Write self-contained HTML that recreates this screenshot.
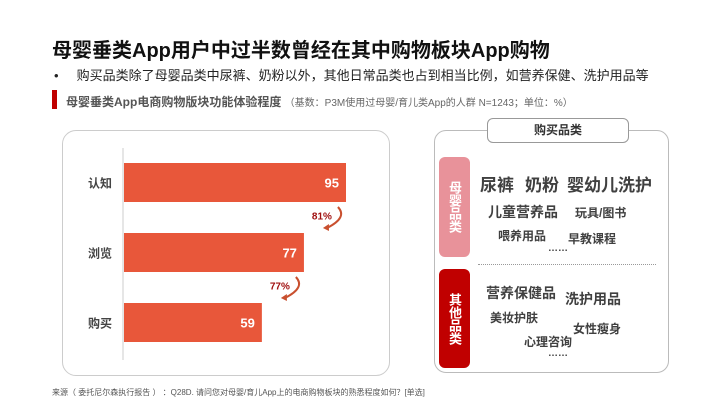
<!DOCTYPE html>
<html><head><meta charset="utf-8"><style>
body{margin:0;width:720px;height:405px;background:#fff;position:relative;overflow:hidden;font-family:"Liberation Sans","Noto Sans CJK SC",sans-serif;color:#333}
.a{position:absolute;white-space:nowrap}
.w{font-weight:bold;color:#404040}
</style></head><body>
<div class="a" style="left:52px;top:34px;font-size:20px;font-weight:bold;color:#111">母婴垂类App用户中过半数曾经在其中购物板块App购物</div>
<div class="a" style="left:54px;top:65px;font-size:13px;color:#222">•&nbsp;&nbsp;&nbsp;&nbsp;&nbsp;购买品类除了母婴品类中尿裤、奶粉以外，其他日常品类也占到相当比例，如营养保健、洗护用品等</div>
<div class="a" style="left:52px;top:90px;width:5px;height:19px;background:#c00000"></div>
<div class="a" style="left:66px;top:93px;font-size:12px;font-weight:bold;color:#555">母婴垂类App电商购物版块功能体验程度 <span style="font-size:10px;font-weight:normal;color:#666">（基数：P3M使用过母婴/育儿类App的人群 N=1243；单位：%）</span></div>

<div class="a" style="left:62px;top:130px;width:326px;height:244px;border:1px solid #ccc;border-radius:14px"></div>
<svg class="a" style="left:0;top:0" width="720" height="405" id="chart"></svg>

<div class="a" style="left:434px;top:130px;width:233px;height:241px;border:1px solid #bbb;border-radius:12px"></div>
<div class="a" style="left:487px;top:118px;width:140px;height:23px;border:1px solid #999;border-radius:6px;background:#fff;text-align:center;line-height:23px;font-size:12px;font-weight:bold;color:#333">购买品类</div>
<div class="a" style="left:439px;top:157px;width:31px;height:100px;background:#e8929a;border-radius:6px;color:#fff;font-size:13px;font-weight:bold;writing-mode:vertical-rl;text-align:center;line-height:31px">母婴品类</div>
<div class="a" style="left:439px;top:269px;width:31px;height:99px;background:#c00000;border-radius:6px;color:#fff;font-size:13px;font-weight:bold;writing-mode:vertical-rl;text-align:center;line-height:31px">其他品类</div>
<div class="a" style="left:478px;top:264px;width:178px;border-top:1px dotted #999"></div>
<div class="a w" style="left:480px;top:171px;font-size:17px">尿裤</div>
<div class="a w" style="left:525px;top:171px;font-size:17px">奶粉</div>
<div class="a w" style="left:567px;top:171px;font-size:17px">婴幼儿洗护</div>
<div class="a w" style="left:488px;top:202px;font-size:14px">儿童营养品</div>
<div class="a w" style="left:575px;top:204px;font-size:12px">玩具/图书</div>
<div class="a w" style="left:498px;top:227px;font-size:12px">喂养用品</div>
<div class="a w" style="left:568px;top:230px;font-size:12px">早教课程</div>
<div class="a w" style="left:548px;top:243px;font-size:10px">……</div>
<div class="a w" style="left:486px;top:283px;font-size:14px">营养保健品</div>
<div class="a w" style="left:565px;top:289px;font-size:14px">洗护用品</div>
<div class="a w" style="left:490px;top:309px;font-size:12px">美妆护肤</div>
<div class="a w" style="left:573px;top:320px;font-size:12px">女性瘦身</div>
<div class="a w" style="left:524px;top:333px;font-size:12px">心理咨询</div>
<div class="a w" style="left:548px;top:348px;font-size:10px">……</div>

<div class="a" style="left:52px;top:387px;font-size:8px;color:#555">来源（ 委托尼尔森执行报告 ） ：Q28D. 请问您对母婴/育儿App上的电商购物板块的熟悉程度如何？[单选]</div>
<script>
const categories=["认知","浏览","购买"];
const values=[95,77,59];
const conversions=["81%","77%"];
const NS="http://www.w3.org/2000/svg";
const svg=document.getElementById('chart');
const x0=124,scale=222/95,y0=163,step=70,bh=39;
const xs=v=>x0+v*scale, ys=i=>y0+i*step;
function mk(t,a){const e=document.createElementNS(NS,t);for(const k in a)e.setAttribute(k,a[k]);svg.appendChild(e);return e;}
const ax=mk('line',{x1:123,y1:148,x2:123,y2:360,stroke:'#ccc'});


values.forEach((v,i)=>{
  const r=mk('rect',{x:x0,y:ys(i),width:xs(v)-x0,height:bh,fill:'#e8573a'});
  
  
  const t=mk('text',{x:xs(v)-7,y:ys(i)+bh/2+5,'text-anchor':'end','font-size':13,'font-weight':'bold',fill:'#fff'});
  t.textContent=v;
  
  
  const l=mk('text',{x:88,y:ys(i)+bh/2+5,'font-size':12,'font-weight':'bold',fill:'#444'});
  l.textContent=categories[i];
  
  
});
conversions.forEach((c,i)=>{
  const ax=xs(values[i+1])+38, top=ys(i)+bh+5, bot=ys(i+1)-5;
  const p=mk('path',{d:`M${ax-4} ${top} Q${ax+6} ${(top+bot)/2} ${ax-15} ${bot}`,fill:'none',stroke:'#c9502f','stroke-width':2});
  
  
  mk('path',{d:`M${ax-19} ${bot} l6 -4 l0 7 z`,fill:'#c9502f'});
  const t=mk('text',{x:ax-10,y:(top+bot)/2+2,'text-anchor':'end','font-size':10,'font-weight':'bold',fill:'#a01010'});
  t.textContent=c;
  
  
});
</script>
</body></html>
